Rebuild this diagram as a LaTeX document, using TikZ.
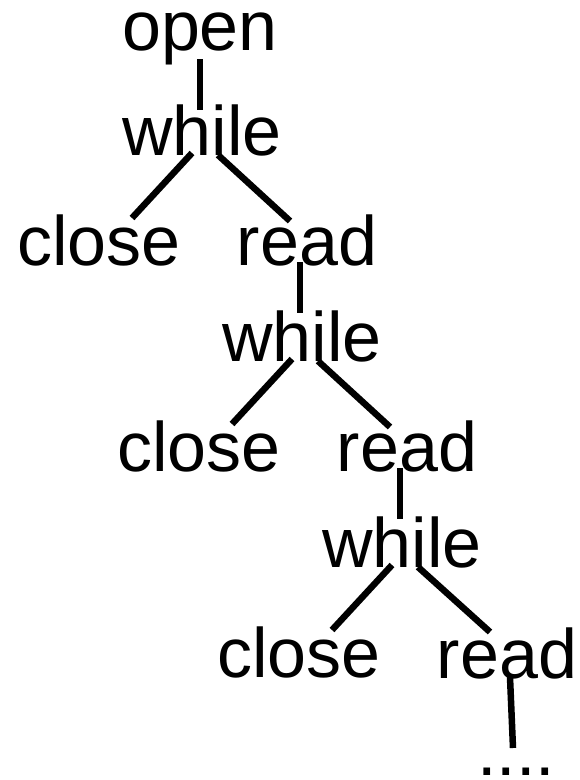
\documentclass[tikz,border=0pt]{standalone}
\usepackage{fontspec}
\setmainfont{Liberation Sans}

\begin{document}
\begin{tikzpicture}[x=1pt, y=-1pt,
        word/.style={anchor=base, inner sep=0pt, font=\fontsize{70}{84}\selectfont},
        link/.style={black, line width=6.5pt}]
            \useasboundingbox (0,0) rectangle (579,780);
            \node[word] (open) at (200,50) {open};
            \node[word] (w1) at (202,155) {while};
            \node[word] (c1) at (99,265) {close};
            \node[word] (r1) at (307,265) {read};
            \node[word] (w2) at (302,361) {while};
            \node[word] (c2) at (199,471) {close};
            \node[word] (r2) at (407,471) {read};
            \node[word] (w3) at (402,567) {while};
            \node[word] (c3) at (299,677) {close};
            \node[word] (r3) at (507,678) {read};
            \node[word] (more) at (516,775) {....};
            \draw[link] ([yshift=-9pt]open.base) -- ([xshift=-2pt, yshift=45pt]w1.base);
            \draw[link] ([xshift=-10pt, yshift=2pt]w1.base) -- ([xshift=33pt, yshift=47pt]c1.base);
            \draw[link] ([xshift=16pt]w1.base) -- ([xshift=-17pt, yshift=44pt]r1.base);
            \draw[link] ([xshift=-7pt, yshift=3pt]r1.base) -- ([xshift=-2pt, yshift=48pt]w2.base);
            \draw[link] ([xshift=-10pt, yshift=2pt]w2.base) -- ([xshift=33pt, yshift=47pt]c2.base);
            \draw[link] ([xshift=16pt]w2.base) -- ([xshift=-17pt, yshift=44pt]r2.base);
            \draw[link] ([xshift=-7pt, yshift=3pt]r2.base) -- ([xshift=-2pt, yshift=48pt]w3.base);
            \draw[link] ([xshift=-10pt, yshift=2pt]w3.base) -- ([xshift=33pt, yshift=47pt]c3.base);
            \draw[link] ([xshift=16pt]w3.base) -- ([xshift=-17pt, yshift=46pt]r3.base);
            \draw[link] ([xshift=3pt, yshift=1pt]r3.base) -- ([xshift=-3pt, yshift=27pt]more.base);
        \end{tikzpicture}
\end{document}
